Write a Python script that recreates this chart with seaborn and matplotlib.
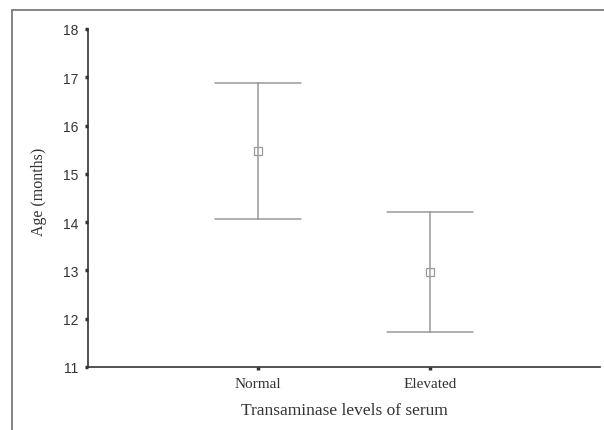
import pandas as pd
import seaborn as sns
import matplotlib.pyplot as plt
from matplotlib.patches import Rectangle

# values: mean with lower / upper ends of the error bar
groups = ["Normal", "Elevated"]
means = [15.47, 12.97]
lower = [14.06, 11.72]
upper = [16.88, 14.22]

rows = []
for g, lo, m, hi in zip(groups, lower, means, upper):
    for v in (lo, m, hi):
        rows.append({"group": g, "age": v})
df = pd.DataFrame(rows)

sns.set_theme(style="white")

fig = plt.figure(figsize=(6.04, 4.31), dpi=100)
ax = fig.add_axes([88 / 604, 1 - 368 / 431, 512 / 604, 338 / 431])

grey = "#9a9a9a"
sns.pointplot(data=df, x="group", y="age", order=groups, ax=ax,
              estimator="median", errorbar=lambda v: (v.min(), v.max()),
              capsize=0.5, color=grey, linestyle="none",
              marker="s", markersize=6, markerfacecolor="white",
              markeredgecolor=grey, markeredgewidth=0.9,
              err_kws={"linewidth": 1.1})

ax.set_ylim(11, 18)
ax.set_xlim(-0.99, 1.99)
ax.set_yticks(range(11, 19))

for s in ["top", "right"]:
    ax.spines[s].set_visible(False)
for s in ["left", "bottom"]:
    ax.spines[s].set_color("#333333")
    ax.spines[s].set_linewidth(1.2)

ax.tick_params(axis="both", direction="out", length=2, width=2.5,
               color="#333333", left=True, bottom=True, pad=5)
for t in ax.get_yticklabels():
    t.set_fontfamily("Liberation Sans")
    t.set_fontsize(10)
    t.set_color("#333333")
for t in ax.get_xticklabels():
    t.set_fontfamily("Liberation Serif")
    t.set_fontsize(11)
    t.set_color("#333333")

ax.set_ylabel("Age (months)", family="Liberation Serif", fontsize=11.5,
              color="#333333")
ax.yaxis.set_label_coords(-0.08, 0.52)
ax.set_xlabel("Transaminase levels of serum", family="Liberation Serif",
              fontsize=12.5, color="#333333", labelpad=9)

# outer frame around the figure
fig.patches.append(Rectangle((12 / 604, -0.1), 1.2, 1.1 - 11 / 431,
                             transform=fig.transFigure, fill=False,
                             edgecolor="#7a7a7a", linewidth=1.3))

fig.savefig("out.png", dpi=100)
